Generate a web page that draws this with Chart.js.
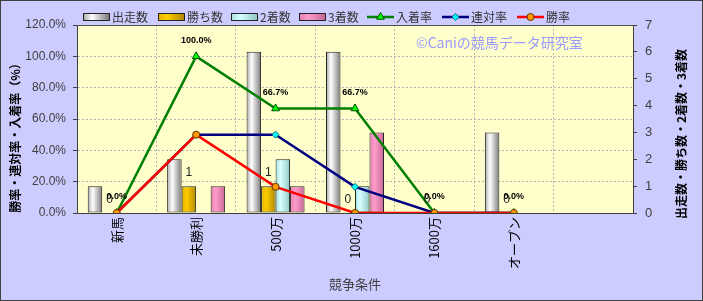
<!DOCTYPE html>
<html lang="ja">
<head>
<meta charset="utf-8">
<title>競争条件別成績</title>
<script src="https://cdn.jsdelivr.net/npm/chart.js@4.4.1/dist/chart.umd.min.js"></script>
<style>
  html, body { margin: 0; padding: 0; background: #ccccff; }
  #wrap { width: 703px; height: 301px; }
</style>
</head>
<body>
<div id="wrap"><canvas id="chart" width="703" height="301"></canvas></div>
<script>
// 競争条件 (last slot is empty in the original)
var categories = ['新馬', '未勝利', '500万', '1000万', '1600万', 'オープン', ''];

// counts, right axis
var runs   = [1, 2, 6, 6, 0, 3, null];
var wins   = [0, 1, 1, 0, 0, 0, null];
var second = [0, 0, 2, 1, 0, 0, null];
var third  = [0, 1, 1, 3, 0, 0, null];

// rates in %, left axis
var placeRate = [0, 100, 66.7, 66.7, 0, 0, null];
var quinRate  = [0, 50, 50, 16.7, 0, 0, null];
var winRate   = [0, 50, 16.7, 0, 0, 0, null];

// tick ranges
var rateTicks  = [0, 20, 40, 60, 80, 100, 120];
var countTicks = [0, 1, 2, 3, 4, 5, 6, 7];

var FONT = '"Liberation Sans", Arial, "Noto Sans CJK JP", sans-serif';
var JFONT = '"Noto Sans CJK JP", "Liberation Sans", sans-serif';
var CAT_PCT = 0.73;
var GRID = '#b4b4b4';

// cylinder-ish horizontal gradient per bar, computed from the x scale
function barFill(stops, slot) {
	return function(c) {
		var chart = c.chart, xs = chart.scales.x;
		if (!xs || c.dataIndex === undefined) {
			return stops[1];
		}
		var catW = xs.getPixelForValue(1) - xs.getPixelForValue(0);
		var size = catW * CAT_PCT, chunk = size / 4;
		var left = xs.getPixelForValue(c.dataIndex) - size / 2 + chunk * slot;
		if (!isFinite(left) || !isFinite(chunk) || chunk <= 0) {
			return stops[1];
		}
		var g = chart.ctx.createLinearGradient(left, 0, left + chunk, 0);
		g.addColorStop(0, stops[0]);
		g.addColorStop(0.35, stops[1]);
		g.addColorStop(1, stops[2]);
		return g;
	};
}

var runsStops   = ['#a8a8a8', '#ffffff', '#7a7a7a'];
var winsStops   = ['#e0b000', '#ffcc00', '#b08800'];
var secondStops = ['#a8e0e0', '#d8ffff', '#90c8c8'];
var thirdStops  = ['#e080b0', '#ff9ccc', '#c86898'];

function barSet(label, data, stops, slot) {
	return {
		type: 'bar',
		label: label,
		data: data,
		yAxisID: 'y1',
		order: 3,
		backgroundColor: barFill(stops, slot),
		legendStops: stops,
		borderColor: '#222',
		borderWidth: 1,
		borderSkipped: false,
		categoryPercentage: CAT_PCT,
		barPercentage: 1.0
	};
}

function lineSet(label, data, color, style, fill, edge, radius, order) {
	return {
		type: 'line',
		label: label,
		data: data,
		yAxisID: 'y',
		order: order,
		borderColor: color,
		borderWidth: 2.5,
		pointStyle: style,
		pointRadius: radius,
		pointBackgroundColor: fill,
		pointBorderColor: edge,
		pointBorderWidth: 1,
		tension: 0
	};
}

var datasets = [
	barSet('出走数', runs, runsStops, 0),
	barSet('勝ち数', wins, winsStops, 1),
	barSet('2着数', second, secondStops, 2),
	barSet('3着数', third, thirdStops, 3),
	lineSet('入着率', placeRate, '#008000', 'triangle', '#00ff00', '#005000', 4.5, 2),
	lineSet('連対率', quinRate, '#000080', 'rectRot', '#00ffff', '#007070', 3.5, 1),
	lineSet('勝率', winRate, '#ff0000', 'circle', '#ff9900', '#603000', 3.5, 0)
];

// background, plot area, frame, watermark
var backdrop = {
	id: 'backdrop',
	beforeDraw: function(chart) {
		var ctx = chart.ctx, a = chart.chartArea;
		ctx.save();
		ctx.fillStyle = '#ccccff';
		ctx.fillRect(0, 0, chart.width, chart.height);
		ctx.fillStyle = '#ffffcc';
		ctx.fillRect(a.left, a.top, a.right - a.left, a.bottom - a.top);
		ctx.strokeStyle = '#404040';
		ctx.lineWidth = 1;
		ctx.strokeRect(0.5, 0.5, chart.width - 1, chart.height - 1);
		ctx.restore();
	},
	beforeDatasetsDraw: function(chart) {
		var ctx = chart.ctx, a = chart.chartArea;
		ctx.save();
		ctx.strokeStyle = '#505050';
		ctx.lineWidth = 1;
		ctx.beginPath();
		ctx.moveTo(a.left, a.top + 0.5);
		ctx.lineTo(a.right, a.top + 0.5);
		ctx.stroke();
		ctx.font = '14px ' + JFONT;
		ctx.fillStyle = '#9a9aff';
		ctx.textBaseline = 'middle';
		ctx.fillText('©Caniの競馬データ研究室', 416, 43);
		ctx.restore();
	}
};

// value labels: 勝ち数 counts and 入着率 percentages
var valueLabels = {
	id: 'valueLabels',
	afterDatasetsDraw: function(chart) {
		var ctx = chart.ctx;
		ctx.save();
		ctx.textAlign = 'center';
		ctx.textBaseline = 'middle';

		var winMeta = chart.getDatasetMeta(1);
		ctx.font = '12px ' + FONT;
		ctx.fillStyle = '#222';
		winMeta.data.forEach(function(bar, i) {
			if (wins[i] === null) return;
			ctx.fillText(String(wins[i]), bar.x, bar.y - 13);
		});

		var placeMeta = chart.getDatasetMeta(4);
		ctx.font = 'bold 9px ' + FONT;
		ctx.fillStyle = '#000';
		placeMeta.data.forEach(function(pt, i) {
			if (placeRate[i] === null) return;
			ctx.fillText(placeRate[i].toFixed(1) + '%', pt.x, pt.y - 16);
		});
		ctx.restore();
	}
};

// legend along the top and the two vertical axis titles
var legendX = [83, 158, 231, 299, 367, 442, 517];
var topLegend = {
	id: 'topLegend',
	afterDraw: function(chart) {
		var ctx = chart.ctx, y = 17;
		ctx.save();
		ctx.textBaseline = 'middle';
		chart.data.datasets.forEach(function(ds, i) {
			var x = legendX[i];
			if (ds.type === 'bar') {
				var g = ctx.createLinearGradient(x, 0, x + 26, 0);
				g.addColorStop(0, ds.legendStops[0]);
				g.addColorStop(0.35, ds.legendStops[1]);
				g.addColorStop(1, ds.legendStops[2]);
				ctx.fillStyle = g;
				ctx.fillRect(x, y - 3, 26, 6);
				ctx.strokeStyle = '#222';
				ctx.lineWidth = 1;
				ctx.strokeRect(x + 0.5, y - 3.5, 26, 7);
			} else {
				ctx.strokeStyle = ds.borderColor;
				ctx.lineWidth = 2.5;
				ctx.beginPath();
				ctx.moveTo(x, y);
				ctx.lineTo(x + 27, y);
				ctx.stroke();
				ctx.fillStyle = ds.pointBackgroundColor;
				ctx.strokeStyle = ds.pointBorderColor;
				ctx.lineWidth = 1;
				Chart.helpers.drawPoint(ctx, {
					pointStyle: ds.pointStyle,
					radius: ds.pointRadius,
					borderWidth: 1,
					rotation: 0
				}, x + 13.5, y);
			}
			ctx.font = '12px ' + JFONT;
			ctx.fillStyle = '#333';
			ctx.fillText(ds.label, x + 29, y);
		});
		ctx.restore();

		ctx.save();
		ctx.font = 'bold 12px ' + JFONT;
		ctx.fillStyle = '#000';
		ctx.textAlign = 'center';
		ctx.textBaseline = 'middle';
		ctx.translate(15, 135);
		ctx.rotate(-Math.PI / 2);
		ctx.fillText('勝率・連対率・入着率（%）', 0, 0);
		ctx.restore();

		ctx.save();
		ctx.font = 'bold 12px ' + JFONT;
		ctx.fillStyle = '#000';
		ctx.textAlign = 'center';
		ctx.textBaseline = 'middle';
		ctx.translate(681, 134);
		ctx.rotate(-Math.PI / 2);
		ctx.fillText('出走数・勝ち数・2着数・3着数', 0, 0);
		ctx.restore();
	}
};

new Chart(document.getElementById('chart').getContext('2d'), {
	type: 'bar',
	data: { labels: categories, datasets: datasets },
	options: {
		responsive: false,
		animation: false,
		layout: { padding: { top: 25, left: 0, right: 0, bottom: 0 } },
		plugins: {
			legend: { display: false },
			tooltip: { enabled: false }
		},
		scales: {
			x: {
				offset: true,
				grid: {
					offset: true,
					color: GRID,
					drawTicks: false
				},
				border: { color: '#404040', width: 1, dash: [2, 2] },
				ticks: {
					autoSkip: false,
					minRotation: 90,
					maxRotation: 90,
					padding: 4,
					color: '#000',
					font: { family: JFONT, size: 13 }
				},
				title: {
					display: true,
					text: '競争条件',
					color: '#404040',
					font: { family: JFONT, size: 13 },
					padding: { top: 0, bottom: 9 }
				},
				afterFit: function(s) { s.height = 88; }
			},
			y: {
				position: 'left',
				min: rateTicks[0],
				max: rateTicks[rateTicks.length - 1],
				ticks: {
					stepSize: rateTicks[1] - rateTicks[0],
					padding: 7,
					color: '#404040',
					font: { family: FONT, size: 12 },
					callback: function(v) { return v.toFixed(1) + '%'; }
				},
				grid: {
					color: GRID,
					drawTicks: true,
					tickLength: 4,
					tickColor: '#404040',
					tickBorderDash: []
				},
				border: { color: '#404040', width: 1, dash: [2, 2] },
				afterFit: function(s) { s.width = 77; }
			},
			y1: {
				position: 'right',
				min: countTicks[0],
				max: countTicks[countTicks.length - 1],
				ticks: {
					stepSize: countTicks[1] - countTicks[0],
					padding: 8,
					color: '#404040',
					font: { family: FONT, size: 13 }
				},
				grid: { drawOnChartArea: false, drawTicks: true, tickLength: 4, color: '#404040' },
				border: { color: '#404040', width: 1 },
				afterFit: function(s) { s.width = 70; }
			}
		}
	},
	plugins: [backdrop, valueLabels, topLegend]
});
</script>
</body>
</html>
